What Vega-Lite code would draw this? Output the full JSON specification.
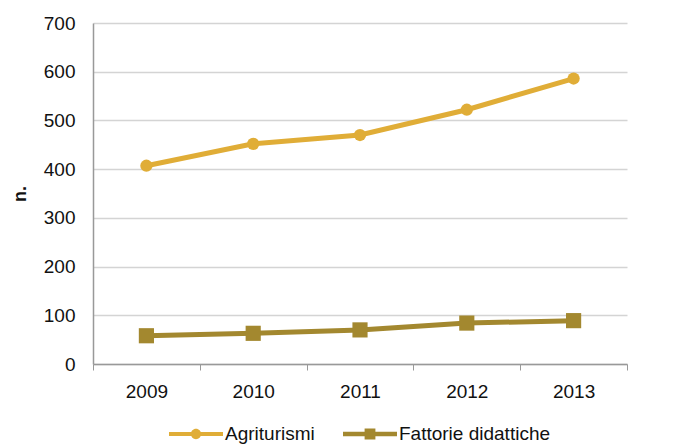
{
  "$schema": "https://vega.github.io/schema/vega-lite/v6.json",
  "width": 534,
  "height": 341,
  "autosize": {"type": "none"},
  "padding": {"left": 93, "top": 23, "right": 57, "bottom": 81},
  "background": "white",
  "config": {
    "font": "Liberation Sans",
    "view": {"stroke": null},
    "axis": {"labelFont": "Liberation Sans", "labelFontSize": 19, "labelColor": "#111", "titleFont": "Liberation Sans"},
    "legend": {"layout": {"bottom": {"anchor": "middle"}}}
  },
  "data": {
    "values": [
      {"year": "2009", "series": "Agriturismi", "n": 407},
      {"year": "2010", "series": "Agriturismi", "n": 452},
      {"year": "2011", "series": "Agriturismi", "n": 470},
      {"year": "2012", "series": "Agriturismi", "n": 522},
      {"year": "2013", "series": "Agriturismi", "n": 586},
      {"year": "2009", "series": "Fattorie didattiche", "n": 58},
      {"year": "2010", "series": "Fattorie didattiche", "n": 63},
      {"year": "2011", "series": "Fattorie didattiche", "n": 70},
      {"year": "2012", "series": "Fattorie didattiche", "n": 84},
      {"year": "2013", "series": "Fattorie didattiche", "n": 89}
    ]
  },
  "encoding": {
    "x": {
      "field": "year", "type": "ordinal",
      "scale": {"type": "band", "paddingInner": 0, "paddingOuter": 0},
      "axis": {"title": null, "labelAngle": 0, "tickBand": "extent", "domainColor": "#999", "tickColor": "#999", "tickSize": 6, "labelPadding": 12, "grid": false, "domainWidth": 1.5}
    },
    "y": {
      "field": "n", "type": "quantitative",
      "scale": {"domain": [0, 700], "nice": false},
      "axis": {"title": "n.", "titleFontSize": 18, "titleFontWeight": "bold", "titleColor": "#111", "titlePadding": 14, "values": [0,100,200,300,400,500,600,700], "ticks": false, "labelPadding": 18, "gridColor": "#d4d4d4", "gridWidth": 1.5, "domainColor": "#999", "domainWidth": 1.5}
    }
  },
  "layer": [
    {
      "mark": {"type": "line", "strokeWidth": 5},
      "encoding": {
        "color": {"field": "series", "type": "nominal", "scale": {"domain": ["Agriturismi", "Fattorie didattiche"], "range": ["#E0AD37", "#A3882F"]}, "legend": null}
      }
    },
    {
      "mark": {"type": "point", "filled": true, "opacity": 1},
      "encoding": {
        "color": {"field": "series", "type": "nominal", "scale": {"domain": ["Agriturismi", "Fattorie didattiche"], "range": ["#E0AD37", "#A3882F"]}, "legend": null},
        "shape": {"field": "series", "type": "nominal", "scale": {"domain": ["Agriturismi", "Fattorie didattiche"], "range": ["circle", "square"]}, "legend": null},
        "size": {"field": "series", "type": "nominal", "scale": {"domain": ["Agriturismi", "Fattorie didattiche"], "range": [150, 230]}, "legend": null}
      }
    },
    {
      "transform": [{"filter": "datum.n < 0"}],
      "mark": {"type": "point", "filled": true, "opacity": 1},
      "encoding": {
        "color": {"field": "series", "type": "nominal", "scale": {"domain": ["Agriturismi", "Fattorie didattiche"], "range": ["#E0AD37", "#A3882F"]},
          "legend": {"orient": "bottom", "direction": "horizontal", "title": null, "labelFontSize": 19, "labelColor": "#111", "labelFont": "Liberation Sans", "symbolSize": 2916, "symbolStrokeWidth": 0, "columnPadding": 28, "labelOffset": 2, "offset": 6}},
        "shape": {"field": "series", "type": "nominal", "scale": {"domain": ["Agriturismi", "Fattorie didattiche"], "range": ["M-1,-0.07 H1 V0.07 H-1 Z M-0.19,0 A0.19,0.19 0 1,1 0.19,0 A0.19,0.19 0 1,1 -0.19,0 Z", "M-1,-0.085 H1 V0.085 H-1 Z M-0.2,-0.2 H0.2 V0.2 H-0.2 Z"]}}
      }
    }
  ],
  "resolve": {"scale": {"color": "independent", "shape": "independent", "size": "independent"}}
}
